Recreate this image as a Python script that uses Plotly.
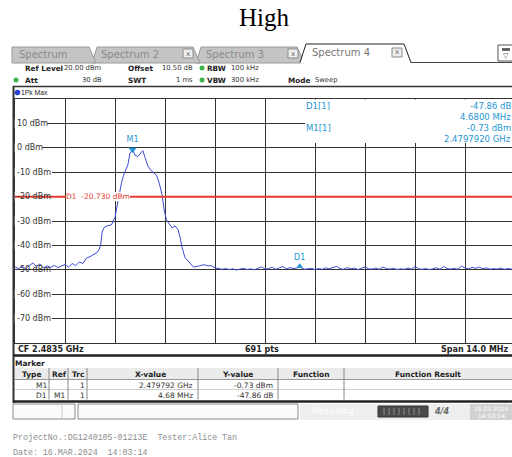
import plotly.graph_objects as go

# --- trace data (offset from start frequency, MHz / level, dBm) ---
freq_offset_mhz = [
    0.0, 0.1, 0.2, 0.3, 0.4, 0.5, 0.6, 0.7, 0.8, 0.9,
    1.0, 1.1, 1.2, 1.3, 1.4, 1.5, 1.6, 1.7, 1.8, 1.9,
    2.0, 2.1, 2.2, 2.3, 2.36, 2.4, 2.44, 2.5, 2.6, 2.7,
    2.8, 2.86, 2.92, 2.98, 3.04, 3.1, 3.16, 3.22, 3.292, 3.36,
    3.44, 3.52, 3.58, 3.64, 3.72, 3.8, 3.88, 3.96, 4.04, 4.12,
    4.18, 4.24, 4.32, 4.4, 4.48, 4.56, 4.62, 4.68, 4.76, 4.84,
    4.92, 5.0, 5.1, 5.2, 5.3, 5.4, 5.5, 5.6, 5.7, 5.8,
    5.9, 6.0, 6.1, 6.2, 6.3, 6.4, 6.5, 6.6, 6.7, 6.8,
    6.9, 7.0, 7.1, 7.2, 7.3, 7.4, 7.5, 7.6, 7.7, 7.8,
    7.9, 7.972, 8.0, 8.1, 8.2, 8.3, 8.4, 8.5, 8.6, 8.7,
    8.8, 8.9, 9.0, 9.1, 9.2, 9.3, 9.4, 9.5, 9.6, 9.7,
    9.8, 9.9, 10.0, 10.1, 10.2, 10.3, 10.4, 10.5, 10.6, 10.7,
    10.8, 10.9, 11.0, 11.1, 11.2, 11.3, 11.4, 11.5, 11.6, 11.7,
    11.8, 11.9, 12.0, 12.1, 12.2, 12.3, 12.4, 12.5, 12.6, 12.7,
    12.8, 12.9, 13.0, 13.1, 13.2, 13.3, 13.4, 13.5, 13.6, 13.7,
    13.8, 13.9, 14.0,
]
level_dbm = [
    -48.8, -49.5, -48.6, -49.6, -48.3, -47.2, -48.6, -47.6, -49.2, -48.4,
    -49.0, -48.2, -49.1, -48.5, -47.8, -48.9, -47.4, -48.3, -46.8, -47.4,
    -45.2, -44.6, -43.8, -42.9, -41.5, -39.8, -34.5, -32.6, -31.9, -31.6,
    -28.5, -23.5, -18.5, -14.5, -11.2, -9.4, -7.0, -2.2, -0.73, -3.0,
    -3.6, -2.1, -1.2, -3.9, -7.4, -9.2, -10.3, -11.2, -14.5, -19.5,
    -25.8, -29.4, -31.2, -32.8, -32.0, -33.4, -36.5, -41.0, -45.0, -46.4,
    -47.5, -48.9, -48.6, -48.2, -47.9, -48.4, -48.3, -49.2, -49.4, -49.8,
    -49.5, -49.9, -49.6, -50.1, -49.7, -49.4, -49.9, -49.6, -50.0, -49.3,
    -48.8, -49.7, -49.5, -48.9, -49.8, -49.2, -48.7, -49.6, -49.1, -49.5,
    -49.2, -48.59, -49.0, -49.8, -49.6, -49.4, -49.9, -49.5, -49.8, -49.2,
    -49.6, -49.0, -48.6, -49.5, -49.8, -49.1, -49.6, -49.3, -49.9, -49.4,
    -48.8, -49.6, -49.7, -49.3, -49.8, -48.9, -49.5, -49.7, -49.4, -49.9,
    -49.6, -49.8, -49.3, -49.7, -48.7, -49.6, -49.8, -49.5, -49.9, -49.6,
    -49.2, -49.8, -48.6, -49.5, -49.7, -49.4, -49.8, -48.5, -49.3, -49.6,
    -49.0, -49.4, -48.9, -49.6, -49.2, -49.8, -49.5, -49.7, -49.3, -49.8,
    -49.5, -49.7, -49.6,
]
assert len(freq_offset_mhz) == len(level_dbm)

start_ghz = 2.4765
center_ghz = 2.4835
span_mhz = 14.0
n_points = 691
ref_level_dbm = 20
bottom_dbm = -80
display_line_dbm = -20.730
y_tick_values = [10, 0, -10, -20, -30, -40, -50, -60, -70]

marker_types = ["M1", "D1"]
marker_refs = ["", "M1"]
marker_trc = ["1", "1"]
marker_x_text = ["2.479792 GHz", "4.68 MHz"]
marker_y_text = ["-0.73 dBm", "-47.86 dB"]
m1_freq_ghz = 2.479792
m1_level_dbm = -0.73
d1_delta_mhz = 4.68
d1_delta_db = -47.86

# --- page geometry (pixels) ---
W, H = 512, 457
PL, PR, PT, PB = 15, 512, 99, 343
FULL_W = 500  # full diagram width, right edge falls off the screenshot

UI = "DejaVu Sans"
BLUE_TXT = "#1e96d2"
RED = "#e33b2e"


def fx(x):
    return (x - PL) / (PR - PL)


def fy(y):
    return (PB - y) / (PB - PT)


shapes = []
annotations = []


def text(x, y, s, size=7.5, color="#222", bold=False, anchor="left", family=UI, **kw):
    annotations.append(dict(
        xref="paper", yref="paper", x=fx(x), y=fy(y),
        text=f"<b>{s}</b>" if bold else s, showarrow=False,
        xanchor=anchor, yanchor="middle", borderpad=0, borderwidth=0,
        font=dict(size=size, color=color, family=family), **kw))


def rect(x0, y0, x1, y1, fill, line=None, lw=1):
    shapes.append(dict(
        type="rect", xref="paper", yref="paper",
        x0=fx(x0), x1=fx(x1), y0=fy(y0), y1=fy(y1), fillcolor=fill,
        line=dict(color=line or "rgba(0,0,0,0)", width=lw if line else 0)))


def hline(x0, x1, y, color="#333", w=1):
    shapes.append(dict(type="line", xref="paper", yref="paper",
                       x0=fx(x0), x1=fx(x1), y0=fy(y), y1=fy(y),
                       line=dict(color=color, width=w)))


def vline(x, y0, y1, color="#333", w=1):
    shapes.append(dict(type="line", xref="paper", yref="paper",
                       x0=fx(x), x1=fx(x), y0=fy(y0), y1=fy(y1),
                       line=dict(color=color, width=w)))


def poly(points, fill, line, lw=1, closed=True):
    p = " ".join(("M" if i == 0 else "L") + f"{fx(x):.5f},{fy(y):.5f}"
                 for i, (x, y) in enumerate(points))
    if closed:
        p += " Z"
    shapes.append(dict(type="path", xref="paper", yref="paper", path=p,
                       fillcolor=fill, line=dict(color=line, width=lw)))


def dot(x, y, r, color):
    shapes.append(dict(type="circle", xref="paper", yref="paper",
                       x0=fx(x - r), x1=fx(x + r), y0=fy(y + r), y1=fy(y - r),
                       fillcolor=color, line=dict(width=0)))


# title
text(264, 18, "High", size=25, color="#000", anchor="center", family="Liberation Serif")

# tabs
hline(12, 512, 62.5, "#444", 1)
poly([(196, 63), (201, 47), (297, 47), (305, 63)], "#c4c4c4", "#9a9a9a")
poly([(92, 63), (97, 47), (193, 47), (200, 63)], "#c4c4c4", "#9a9a9a")
poly([(12, 63), (12, 47), (89, 47), (96, 63)], "#c4c4c4", "#9a9a9a")
poly([(300, 63.5), (306, 44), (404, 44), (411, 63.5)], "#ffffff", "rgba(0,0,0,0)", 0)
poly([(300, 62.5), (306, 44), (404, 44), (411, 62.5)], "rgba(0,0,0,0)", "#222", 1, closed=False)
text(19, 54.5, "Spectrum", size=10, color="#8a8a8a")
text(101, 54.5, "Spectrum 2", size=10, color="#8a8a8a")
text(206, 54.5, "Spectrum 3", size=10, color="#8a8a8a")
text(312, 53, "Spectrum 4", size=10, color="#777")
for bx, by in [(183, 49), (288, 49), (392, 48)]:
    rect(bx, by, bx + 10, by + 9, "#eeeeee", "#8a8a8a")
    text(bx + 5, by + 4.5, "x", size=7, color="#666", anchor="center")
rect(498, 45, 514, 61, "#ffffff", "#555")
rect(502, 48, 510, 51, "#666")
text(506, 56, "▽", size=7, color="#555", anchor="center")

# setting rows
text(25, 68, "Ref Level", bold=True, size=7.3)
text(102, 68, "20.00 dBm", anchor="right", color="#333", size=6.8)
text(128, 68, "Offset", bold=True, size=7.3)
text(193, 68, "10.50 dB", anchor="right", color="#333", size=6.8)
dot(202, 68, 2.5, "#3cb44b")
text(207, 68, "RBW", bold=True, size=7.3)
text(231, 68, "100 kHz", color="#333", size=6.8)
dot(16, 80, 2.5, "#3cb44b")
text(25, 80, "Att", bold=True, size=7.3)
text(102, 80, "30 dB", anchor="right", color="#333", size=6.8)
text(128, 80, "SWT", bold=True, size=7.3)
text(193, 80, "1 ms", anchor="right", color="#333", size=6.8)
dot(202, 80, 2.5, "#3cb44b")
text(207, 80, "VBW", bold=True, size=7.3)
text(231, 80, "300 kHz", color="#333", size=6.8)
text(288, 80, "Mode", bold=True, size=7.3)
text(315, 80, "Sweep", color="#333", size=6.8)

hline(13, 512, 86.5, "#333", 1.5)
dot(17.5, 92.5, 2.8, "#2a3fd6")
text(21, 92.5, "1Pk Max", size=6.8, color="#222", family="Liberation Sans")

# marker info box inside the diagram
rect(305, 99.5, 514, 143, "#ffffff")
text(306, 105.5, "D1[1]", size=8.5, color=BLUE_TXT)
text(306, 127.5, "M1[1]", size=8.5, color=BLUE_TXT)
text(511, 105.5, "-47.86 dB", size=8.5, color=BLUE_TXT, anchor="right")
text(511, 116.5, "4.6800 MHz", size=8.5, color=BLUE_TXT, anchor="right")
text(511, 127.5, "-0.73 dBm", size=8.5, color=BLUE_TXT, anchor="right")
text(511, 138.5, "2.4797920 GHz", size=8.5, color=BLUE_TXT, anchor="right")

# level labels on the grid (the trace runs over the -50 dBm one)
for v in y_tick_values:
    lab = f"{v} dBm"
    if v != -50:
        shapes.append(dict(type="rect", xref="paper", yref="y",
                           x0=fx(14.5), x1=fx(18 + 4.85 * len(lab)), y0=v - 1.9, y1=v + 1.9,
                           fillcolor="#ffffff", line=dict(width=0)))
    annotations.append(dict(xref="paper", yref="y", x=fx(17), y=v, text=lab,
                            showarrow=False, xanchor="left", yanchor="middle",
                            borderpad=0, borderwidth=0,
                            font=dict(size=8, color="#333", family=UI)))

# left frame of the panel, drawn after the label backgrounds
vline(13.5, 86, 403, "#333", 2)

# display line D1 (drawn one screen pixel high, as on the instrument)
shapes.append(dict(type="line", xref="paper", yref="y", ysizemode="pixel",
                   yanchor=display_line_dbm, x0=0, x1=1, y0=1.6, y1=1.6,
                   line=dict(color=RED, width=2)))
annotations.append(dict(xref="paper", yref="y", x=fx(66), y=display_line_dbm,
                        text=f"D1\u00a0 {display_line_dbm:.3f} dBm", showarrow=False,
                        xanchor="left", yanchor="middle", bgcolor="#ffffff",
                        borderpad=0, borderwidth=0, yshift=1.5,
                        font=dict(size=7.5, color=RED, family=UI)))

# footer of the diagram
text(18, 349, f"CF {center_ghz} GHz", size=8, bold=True)
text(262, 349, f"{n_points} pts", size=8, bold=True, anchor="center")
text(509, 349, f"Span {span_mhz:.1f} MHz", size=8, bold=True, anchor="right")
hline(13, 512, 355.5, "#222", 2.5)

# marker table
text(15, 363, "Marker", size=7.5, bold=True)
rect(15, 368, 512, 379, "#ebebeb")
hline(15, 512, 379.5, "#999", 1)
hline(15, 512, 389.5, "#cfcfcf", 1)
for cx in [49, 68, 87, 198, 278, 344]:
    vline(cx, 368, 399.5, "#888", 1)
headers = [("Type", 32), ("Ref", 59), ("Trc", 78), ("X-value", 150),
           ("Y-value", 237), ("Function", 311), ("Function Result", 428)]
for h, cx in headers:
    text(cx, 374, h, size=7.5, bold=True, anchor="center")
for i, ry in enumerate([385, 395]):
    text(47, ry, marker_types[i], anchor="right", color="#333")
    if marker_refs[i]:
        text(65, ry, marker_refs[i], anchor="right", color="#333")
    text(85, ry, marker_trc[i], anchor="right", color="#333")
    text(193, ry, marker_x_text[i], anchor="right", color="#333")
    text(273, ry, marker_y_text[i], anchor="right", color="#333")
hline(13, 512, 401.5, "#222", 2.5)

# status bar
rect(13, 404, 75, 419, "#fbfbfb", "#8a8a8a")
vline(62, 405, 418, "#cccccc", 1)
rect(78, 404, 298, 419, "#fbfbfb", "#8a8a8a")
rect(300, 404, 512, 420, "#eeeeee")
text(312, 411, "Measuring...", size=8, color="#ffffff")
rect(378, 406, 428, 417, "#4a4a4a", "#333")
for sx in range(384, 424, 5):
    vline(sx, 408, 415, "#8c8c8c", 1)
text(441, 411, "<i>4/4</i>", size=8, color="#666", bold=True, anchor="center")
rect(470, 404, 512, 420, "#d2d2d2")
text(491, 408.5, "16.03.2024", size=6, color="#ffffff", anchor="center")
text(491, 415.5, "14:03:14", size=6, color="#ffffff", anchor="center")

# report footer
text(13, 437, "ProjectNo.:DG1240105-01213E  Tester:Alice Tan".replace(" ", "\u00a0"),
     size=8.3, color="#8c8c8c", family="Liberation Mono")
text(13, 452, "Date: 16.MAR.2024  14:03:14".replace(" ", "\u00a0"),
     size=8.3, color="#8c8c8c", family="Liberation Mono")

freq_ghz = [start_ghz + f / 1000 for f in freq_offset_mhz]
d1_freq_ghz = m1_freq_ghz + d1_delta_mhz / 1000
d1_level_dbm = m1_level_dbm + d1_delta_db

fig = go.Figure()
fig.add_trace(go.Scatter(x=freq_ghz, y=level_dbm, mode="lines",
                         line=dict(color="#3b4bd8", width=1), hoverinfo="skip"))
fig.add_trace(go.Scatter(x=[m1_freq_ghz], y=[m1_level_dbm], mode="markers+text",
                         marker=dict(symbol="triangle-down", size=7, color=BLUE_TXT),
                         text=["M1"], textposition="top center", cliponaxis=False,
                         textfont=dict(size=8, color=BLUE_TXT, family=UI)))
fig.add_trace(go.Scatter(x=[d1_freq_ghz], y=[d1_level_dbm], mode="markers+text",
                         marker=dict(symbol="triangle-up", size=6, color=BLUE_TXT),
                         text=["D1"], textposition="top center", cliponaxis=False,
                         textfont=dict(size=8, color=BLUE_TXT, family=UI)))

x_end = start_ghz + span_mhz / 1000 * (PR - PL) / FULL_W
fig.update_layout(
    width=W, height=H,
    margin=dict(l=PL, r=W - PR, t=PT, b=H - PB),
    paper_bgcolor="#ffffff", plot_bgcolor="#ffffff",
    showlegend=False,
    xaxis=dict(range=[start_ghz, x_end], tick0=start_ghz, dtick=span_mhz / 10 / 1000,
               showgrid=True, gridcolor="#333", gridwidth=1, zeroline=False,
               showticklabels=False, ticks="", showline=True, linecolor="#333",
               linewidth=1, mirror=True),
    yaxis=dict(range=[bottom_dbm, ref_level_dbm], tick0=0, dtick=10,
               showgrid=True, gridcolor="#333", gridwidth=1, zeroline=False,
               showticklabels=False, ticks="", showline=True, linecolor="#333",
               linewidth=1, mirror=True),
    shapes=shapes,
    annotations=annotations,
)

fig.write_html("out.html", config={"displayModeBar": False},
               post_script="document.body.style.margin='0';")
